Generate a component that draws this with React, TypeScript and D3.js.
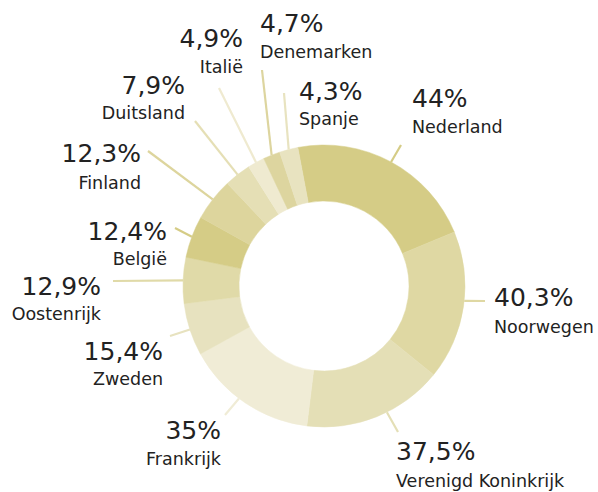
import React from "react";
import * as d3 from "d3";

// Countries (clockwise from the top)
const countries = [
  "Nederland",
  "Noorwegen",
  "Verenigd Koninkrijk",
  "Frankrijk",
  "Zweden",
  "Oostenrijk",
  "België",
  "Finland",
  "Duitsland",
  "Italië",
  "Denemarken",
  "Spanje",
];

// Label values (percent)
const percentages = [44, 40.3, 37.5, 35, 15.4, 12.9, 12.4, 12.3, 7.9, 4.9, 4.7, 4.3];

// Slice sizes (share of the ring)
const sliceShare = [78.2, 61.5, 58, 54.2, 21.6, 19, 17.3, 17.6, 11, 7, 7, 7.6];

const colors = [
  "#d5cc86",
  "#dfd8a3",
  "#e4dfb6",
  "#f0ecd6",
  "#e7e2bf",
  "#e0daa8",
  "#d5cc86",
  "#ddd59d",
  "#e5dfb5",
  "#efead0",
  "#ddd59f",
  "#e8e3c0",
];

// Label layout: leader end point, text anchor, text x, baselines, angle tweak
const labelLayout = [
  { ex: 401, ey: 145, anchor: "start", tx: 412, py: 107, ny: 133, da: 0 },
  { ex: 485, ey: 301, anchor: "start", tx: 494, py: 306, ny: 333, da: -2.2 },
  { ex: 398, ey: 432, anchor: "start", tx: 396, py: 460, ny: 487, da: -4.5 },
  { ex: 225, ey: 415, anchor: "end", tx: 221, py: 439, ny: 465, da: 3 },
  { ex: 170, ey: 336, anchor: "end", tx: 163, py: 360, ny: 385, da: 0 },
  { ex: 113, ey: 281, anchor: "end", tx: 101, py: 295, ny: 320, da: 0 },
  { ex: 175, ey: 228, anchor: "end", tx: 167, py: 240, ny: 265, da: 0 },
  { ex: 148, ey: 151, anchor: "end", tx: 141, py: 162, ny: 189, da: 0 },
  { ex: 195, ey: 121, anchor: "end", tx: 185, py: 94, ny: 119, da: 0 },
  { ex: 219, ey: 88, anchor: "end", tx: 243, py: 47, ny: 73, da: 0 },
  { ex: 262, ey: 70, anchor: "start", tx: 260, py: 32, ny: 58, da: 0 },
  { ex: 284, ey: 93, anchor: "start", tx: 299, py: 100, ny: 125, da: 0 },
];

const W = 598;
const H = 492;
const cx = 324;
const cy = 286;
const outerR = 141;
const innerR = 85;
const startDeg = -10.7;

const fmt = (v: number) => String(v).replace(".", ",") + "%";

export default function App() {
  const start = (startDeg * Math.PI) / 180;
  const pie = d3
    .pie<number>()
    .sort(null)
    .value((d) => d)
    .startAngle(start)
    .endAngle(start + 2 * Math.PI);
  const arcs = pie(sliceShare);
  const arc = d3.arc<d3.PieArcDatum<number>>().innerRadius(innerR).outerRadius(outerR);

  return (
    <svg
      width={W}
      height={H}
      style={{ position: "absolute", left: 0, top: 0, background: "#fff" }}
      fontFamily="'DejaVu Sans', sans-serif"
    >
      <g transform={`translate(${cx},${cy})`}>
        {arcs.map((a, i) => (
          <path key={i} d={arc(a) || ""} fill={colors[i]} stroke={colors[i]} strokeWidth={0.5} />
        ))}
      </g>
      {arcs.map((a, i) => {
        const L = labelLayout[i];
        const mid = (a.startAngle + a.endAngle) / 2 + (L.da * Math.PI) / 180;
        const sx = cx + Math.sin(mid) * outerR;
        const sy = cy - Math.cos(mid) * outerR;
        return (
          <g key={"l" + i}>
            <line x1={sx} y1={sy} x2={L.ex} y2={L.ey} stroke={colors[i]} strokeWidth={2.2} />
            <text
              x={L.tx}
              y={L.py}
              textAnchor={L.anchor as any}
              fontSize={25}
              fill="#222"
            >
              {fmt(percentages[i])}
            </text>
            <text
              x={L.tx}
              y={L.ny}
              textAnchor={L.anchor as any}
              fontSize={17.5}
              fill="#222"
            >
              {countries[i]}
            </text>
          </g>
        );
      })}
    </svg>
  );
}
